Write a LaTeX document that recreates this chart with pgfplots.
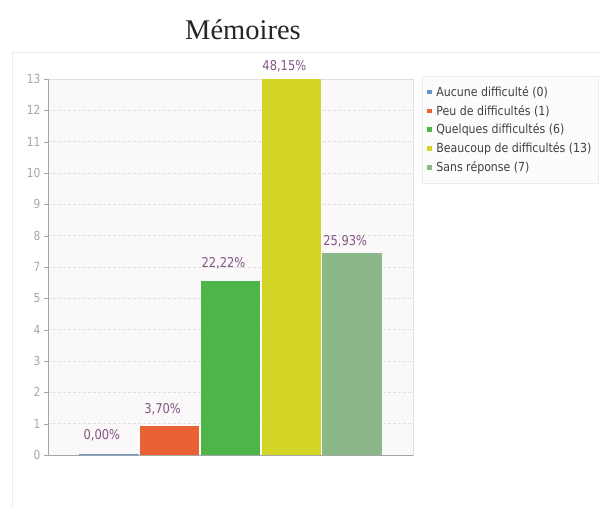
\documentclass[border=0pt]{standalone}
\usepackage{pgfplots}
\pgfplotsset{compat=1.18}
\usepackage{fontspec}
\newfontfamily\cond[FakeStretch=0.85]{DejaVu Sans}
\newfontfamily\condl[FakeStretch=0.88]{DejaVu Sans}
\newfontfamily\ttl{Liberation Serif}

\definecolor{cblue}{RGB}{96,150,200}
\definecolor{corange}{RGB}{232,98,52}
\definecolor{cgreen}{RGB}{78,182,72}
\definecolor{cyellow}{RGB}{212,212,38}
\definecolor{csage}{RGB}{138,184,136}
\definecolor{labcol}{RGB}{130,86,132}
\definecolor{bgpink}{RGB}{250,248,248}
\definecolor{framecol}{RGB}{236,236,236}

\pgfplotsset{
  sq legend/.style={legend image code/.code={\fill[##1,draw=none] (0pt,-2.3pt) rectangle (4.6pt,2.3pt);}},
}

\begin{document}
\begin{tikzpicture}
\path[use as bounding box] (0pt,0pt) rectangle (601pt,507pt);
\draw[framecol] (12pt,0pt) -- (12pt,455pt) -- (601pt,455pt);
\node[font=\ttl\fontsize{28.5}{31}\selectfont, text=black!85] at (243pt,477pt) {Mémoires};

\begin{axis}[
  at={(48pt,52pt)}, anchor=south west,
  scale only axis, width=365pt, height=376pt,
  xmin=-1, xmax=5, ymin=0, ymax=13,
  xtick=\empty,
  ytick={0,1.08333,2.16667,3.25,4.33333,5.41667,6.5,7.58333,8.66667,9.75,10.83333,11.91667,13},
  yticklabels={0,1,2,3,4,5,7,8,9,10,11,12,13},
  ytick pos=left, tick align=outside, major tick length=4pt,
  tick style={gray!70},
  yticklabel style={font=\cond\fontsize{12.5}{13}\selectfont, text=gray!70},
  ymajorgrids, grid style={densely dashed, gray!25},
  axis line style={gray!25},
  axis background/.style={fill=bgpink},
  ybar, bar width=0.98,
  nodes near coords, point meta=explicit symbolic,
  every node near coord/.append style={font=\cond\fontsize{13.5}{14}\selectfont, text=labcol, anchor=south, xshift=-7pt},
  legend style={at={(1,1)}, anchor=north west, xshift=9pt, yshift=3pt, draw=gray!15, fill=black!1,
    font=\condl\fontsize{12.5}{15}\selectfont, text=black!75, inner xsep=5pt, inner ysep=8pt, row sep=3.4pt,
    /tikz/every odd column/.append style={column sep=2.5pt}},
  legend cell align=left,
  clip=false,
]
\addplot[bar shift=0pt, fill=cblue, draw=cblue, line width=1.5pt, nodes near coords style={yshift=10pt}, sq legend]
  coordinates {(0,0) [0,00\%]};
\addlegendentry{Aucune difficulté (0)}
\addplot[bar shift=0pt, fill=corange, draw=none, nodes near coords style={yshift=7pt}, sq legend]
  coordinates {(1,1) [3,70\%]};
\addlegendentry{Peu de difficultés (1)}
\addplot[bar shift=0pt, fill=cgreen, draw=none, nodes near coords style={yshift=9pt}, sq legend]
  coordinates {(2,6) [22,22\%]};
\addlegendentry{Quelques difficultés (6)}
\addplot[bar shift=0pt, fill=cyellow, draw=none, nodes near coords style={yshift=3pt}, sq legend]
  coordinates {(3,13) [48,15\%]};
\addlegendentry{Beaucoup de difficultés (13)}
\addplot[bar shift=0pt, fill=csage, draw=none, nodes near coords style={yshift=2pt}, sq legend]
  coordinates {(4,7) [25,93\%]};
\addlegendentry{Sans réponse (7)}

\draw[gray!70] (rel axis cs:0,0) -- (rel axis cs:0,1);
\draw[gray!70] (rel axis cs:0,0) -- (rel axis cs:1,0);
\end{axis}
\end{tikzpicture}
\end{document}
